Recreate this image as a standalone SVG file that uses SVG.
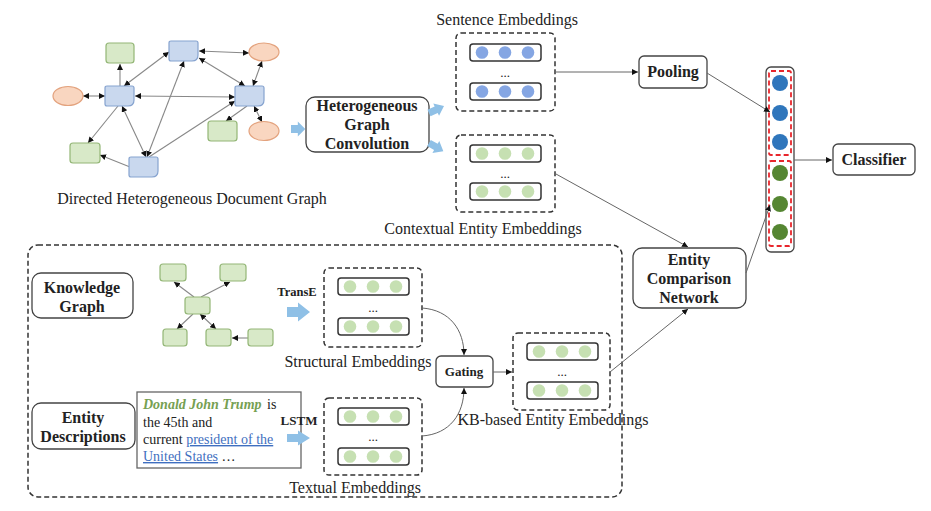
<svg xmlns="http://www.w3.org/2000/svg" xmlns:xlink="http://www.w3.org/1999/xlink" width="931" height="511" viewBox="0 0 931 511">
  <style>
    .t { font-family: "Liberation Serif", "Times New Roman", serif; fill: #222; }
    .lbl { font-size: 16px; text-anchor: middle; }
    .b { font-weight: bold; text-anchor: middle; }
    .box { fill: #fff; stroke: #444; stroke-width: 1.3; }
    .dash { fill: none; stroke: #333; stroke-width: 1.5; stroke-dasharray: 5 3; }
    .row { fill: #fff; stroke: #333; stroke-width: 1.5; }
    .ge { fill: none; stroke: #888; stroke-width: 1.1; }
    .ln { fill: none; stroke: #666; stroke-width: 1; }
    .bl { fill: #c9d8ee; stroke: #86a3cf; stroke-width: 1.2; }
    .gr { fill: #d8e9c8; stroke: #93b676; stroke-width: 1.2; }
    .or { fill: #f9d6c0; stroke: #e3a27d; stroke-width: 1.2; }
    .dg { fill: #c6e0b2; }
    .db { fill: #85a6e3; }
    .fat { fill: #8fc0e6; }
  </style>
  <defs>
    <marker id="ah" viewBox="0 0 10 10" refX="10" refY="5" markerWidth="6" markerHeight="6" markerUnits="userSpaceOnUse" orient="auto-start-reverse">
      <path d="M0,0 L10,5 L0,10 z" fill="#111"/>
    </marker>
    <!-- document shaped node: rounded corners, cut bottom-right -->
    <path id="doc" d="M2,0 H27 Q29,0 29,2 V14 Q29,20 23,20 H2 Q0,20 0,18 V2 Q0,0 2,0 Z"/>
    <!-- thick light-blue flow arrow pointing right, origin at tail centre -->
    <path id="fat" d="M0,-5 H11 V-9.5 L23,0 L11,9.5 V5 H0 Z"/>
    <g id="row3">
      <rect class="row" x="0" y="0" width="71" height="17" rx="3"/>
      <circle cx="12" cy="8.5" r="6.3"/>
      <circle cx="35" cy="8.5" r="6.3"/>
      <circle cx="58" cy="8.5" r="6.3"/>
    </g>
  </defs>

  <!-- directed heterogeneous document graph -->
  <g id="doc-graph">
    <g id="doc-graph-edges">
      <line class="ge" x1="120" y1="86" x2="120" y2="64" marker-end="url(#ah)"/>
      <line class="ge" x1="124" y1="86" x2="169" y2="52" marker-start="url(#ah)" marker-end="url(#ah)"/>
      <line class="ge" x1="199" y1="51" x2="249" y2="53" marker-start="url(#ah)" marker-end="url(#ah)"/>
      <line class="ge" x1="199" y1="58" x2="245" y2="86" marker-start="url(#ah)" marker-end="url(#ah)"/>
      <line class="ge" x1="262" y1="61" x2="253" y2="86" marker-start="url(#ah)" marker-end="url(#ah)"/>
      <line class="ge" x1="83" y1="96" x2="105" y2="96" marker-start="url(#ah)" marker-end="url(#ah)"/>
      <line class="ge" x1="135" y1="96" x2="235" y2="97" marker-start="url(#ah)" marker-end="url(#ah)"/>
      <line class="ge" x1="247" y1="106" x2="226" y2="121" marker-end="url(#ah)"/>
      <line class="ge" x1="254" y1="106" x2="262" y2="122" marker-start="url(#ah)" marker-end="url(#ah)"/>
      <line class="ge" x1="118" y1="106" x2="88" y2="143" marker-end="url(#ah)"/>
      <line class="ge" x1="146" y1="157" x2="122" y2="106" marker-start="url(#ah)" marker-end="url(#ah)"/>
      <line class="ge" x1="130" y1="167" x2="100" y2="155" marker-end="url(#ah)"/>
      <line class="ge" x1="147" y1="157" x2="184" y2="61" marker-start="url(#ah)" marker-end="url(#ah)"/>
      <line class="ge" x1="149" y1="157" x2="235" y2="101" marker-end="url(#ah)"/>
    </g>
    <g id="g-n1"><rect class="gr" x="106" y="43" width="28" height="20" rx="3"/></g>
    <g id="g-n2"><use href="#doc" class="bl" x="169" y="41"/></g>
    <g id="g-n3"><ellipse class="or" cx="264" cy="52" rx="15" ry="9"/></g>
    <g id="g-n4"><ellipse class="or" cx="68" cy="96" rx="15" ry="9.5"/></g>
    <g id="g-n5"><use href="#doc" class="bl" x="105" y="86"/></g>
    <g id="g-n6"><use href="#doc" class="bl" x="235" y="86"/></g>
    <g id="g-n7"><rect class="gr" x="208" y="121" width="29" height="20" rx="3"/></g>
    <g id="g-n8"><ellipse class="or" cx="264" cy="131" rx="15" ry="9.5"/></g>
    <g id="g-n9"><rect class="gr" x="70" y="143" width="30" height="20" rx="3"/></g>
    <g id="g-n10"><use href="#doc" class="bl" x="129" y="157"/></g>
    <text class="t lbl" x="192" y="204">Directed Heterogeneous Document Graph</text>
  </g>

  <!-- heterogeneous graph convolution -->
  <g id="hgc">
    <rect class="box" x="306" y="97" width="123" height="55" rx="9"/>
    <text class="t b" font-size="16" x="367" y="111">Heterogeneous</text>
    <text class="t b" font-size="16" x="367" y="130">Graph</text>
    <text class="t b" font-size="16" x="367" y="149">Convolution</text>
  </g>

  <!-- sentence embeddings -->
  <g id="sentence-emb">
    <text class="t lbl" x="507" y="25">Sentence Embeddings</text>
    <rect class="dash" x="456" y="33" width="99" height="78" rx="5"/>
    <use href="#row3" class="db" x="470" y="44"/>
    <text class="t" font-size="13" x="505" y="77" text-anchor="middle">...</text>
    <use href="#row3" class="db" x="470" y="83"/>
  </g>

  <!-- contextual entity embeddings -->
  <g id="contextual-emb">
    <rect class="dash" x="456" y="135" width="99" height="77" rx="5"/>
    <use href="#row3" class="dg" x="470" y="145"/>
    <text class="t" font-size="13" x="505" y="178" text-anchor="middle">...</text>
    <use href="#row3" class="dg" x="470" y="183"/>
    <text class="t lbl" x="483" y="234">Contextual Entity Embeddings</text>
  </g>

  <!-- pooling -->
  <g id="pooling">
    <rect class="box" x="639" y="56" width="68" height="32" rx="5"/>
    <text class="t b" font-size="16" x="673" y="77">Pooling</text>
  </g>

  <!-- concatenated feature vector -->
  <g id="feature-vector">
    <rect class="box" x="766" y="67" width="28" height="185" rx="5" stroke-width="1.5"/>
    <rect x="769" y="71" width="22" height="84" rx="2" fill="none" stroke="#e8262c" stroke-width="1.8" stroke-dasharray="5 3"/>
    <rect x="769" y="161" width="22" height="85" rx="2" fill="none" stroke="#e8262c" stroke-width="1.8" stroke-dasharray="5 3"/>
    <circle cx="780" cy="83" r="8" fill="#2f76bc"/>
    <circle cx="780" cy="113" r="8" fill="#2f76bc"/>
    <circle cx="780" cy="142" r="8" fill="#2f76bc"/>
    <circle cx="780" cy="173" r="8" fill="#558632"/>
    <circle cx="780" cy="204" r="8" fill="#558632"/>
    <circle cx="780" cy="232" r="8" fill="#558632"/>
  </g>

  <!-- classifier -->
  <g id="classifier">
    <rect class="box" x="833" y="144" width="82" height="31" rx="5"/>
    <text class="t b" font-size="16" x="874" y="165">Classifier</text>
  </g>

  <!-- entity comparison network -->
  <g id="ecn">
    <rect class="box" x="633" y="248" width="113" height="60" rx="9"/>
    <text class="t b" font-size="16" x="689" y="265">Entity</text>
    <text class="t b" font-size="16" x="689" y="284">Comparison</text>
    <text class="t b" font-size="16" x="689" y="303">Network</text>
  </g>

  <!-- knowledge base module -->
  <g id="kb-module">
    <rect class="dash" x="28" y="245" width="594" height="252" rx="10"/>
  </g>

  <g id="knowledge-graph">
    <rect class="box" x="32" y="273" width="101" height="45" rx="9"/>
    <text class="t b" font-size="16" x="82" y="293">Knowledge</text>
    <text class="t b" font-size="16" x="82" y="312">Graph</text>
  </g>

  <g id="kg-small">
    <g id="kg-edges">
      <line class="ge" x1="194" y1="297" x2="174" y2="282" marker-end="url(#ah)"/>
      <line class="ge" x1="201" y1="297" x2="230" y2="282" marker-end="url(#ah)"/>
      <line class="ge" x1="193" y1="314" x2="177" y2="329" marker-end="url(#ah)"/>
      <line class="ge" x1="200" y1="314" x2="216" y2="329" marker-start="url(#ah)" marker-end="url(#ah)"/>
      <line class="ge" x1="248" y1="338" x2="232" y2="338" marker-end="url(#ah)"/>
    </g>
    <g id="kg-n1"><rect class="gr" x="160" y="264" width="26" height="17" rx="3"/></g>
    <g id="kg-n2"><rect class="gr" x="220" y="264" width="26" height="17" rx="3"/></g>
    <g id="kg-n3"><rect class="gr" x="185" y="297" width="25" height="17" rx="3"/></g>
    <g id="kg-n4"><rect class="gr" x="163" y="329" width="24" height="17" rx="3"/></g>
    <g id="kg-n5"><rect class="gr" x="206" y="329" width="25" height="17" rx="3"/></g>
    <g id="kg-n6"><rect class="gr" x="248" y="329" width="25" height="17" rx="3"/></g>
  </g>

  <g id="entity-descriptions">
    <rect class="box" x="32" y="403" width="103" height="46" rx="9"/>
    <text class="t b" font-size="16" x="83" y="423">Entity</text>
    <text class="t b" font-size="16" x="83" y="442">Descriptions</text>
  </g>

  <g id="description-text">
    <rect x="137" y="392" width="164" height="76" fill="#fff" stroke="#666" stroke-width="1.3"/>
    <text class="t" font-size="14" x="143" y="409"><tspan font-style="italic" font-weight="bold" fill="#76a052">Donald John Trump</tspan><tspan x="267">is</tspan></text>
    <text class="t" font-size="14" x="143" y="427">the 45th and</text>
    <text class="t" font-size="14" x="143" y="444">current <tspan fill="#3f6fc0" text-decoration="underline">president of the</tspan></text>
    <text class="t" font-size="14" x="143" y="461"><tspan fill="#3f6fc0" text-decoration="underline">United States</tspan> …</text>
  </g>

  <!-- thick flow arrows and their labels -->
  <g id="flow-arrows">
    <use href="#fat" class="fat" transform="translate(291,129) scale(0.62,0.8)"/>
    <use href="#fat" class="fat" transform="translate(429,113) rotate(-25) scale(0.72)"/>
    <use href="#fat" class="fat" transform="translate(429,143) rotate(30) scale(0.72)"/>
    <use href="#fat" class="fat" transform="translate(287,312)"/>
    <use href="#fat" class="fat" transform="translate(287,438) scale(1,0.8)"/>
    <text class="t b" font-size="12.5" x="297" y="296">TransE</text>
    <text class="t b" font-size="13" x="299" y="425">LSTM</text>
  </g>

  <!-- structural embeddings -->
  <g id="structural-emb">
    <rect class="dash" x="324" y="268" width="98" height="79" rx="5"/>
    <use href="#row3" class="dg" x="338" y="278"/>
    <text class="t" font-size="13" x="373" y="312" text-anchor="middle">...</text>
    <use href="#row3" class="dg" x="338" y="318"/>
    <text class="t lbl" x="358" y="367">Structural Embeddings</text>
  </g>

  <!-- textual embeddings -->
  <g id="textual-emb">
    <rect class="dash" x="324" y="398" width="98" height="77" rx="5"/>
    <use href="#row3" class="dg" x="338" y="408"/>
    <text class="t" font-size="13" x="373" y="441" text-anchor="middle">...</text>
    <use href="#row3" class="dg" x="338" y="448"/>
    <text class="t lbl" x="355" y="493">Textual Embeddings</text>
  </g>

  <!-- gating -->
  <g id="gating">
    <rect class="box" x="436" y="356" width="57" height="31" rx="5"/>
    <text class="t b" font-size="13" x="464" y="376">Gating</text>
  </g>

  <!-- kb-based entity embeddings -->
  <g id="kb-emb">
    <rect class="dash" x="513" y="333" width="97" height="77" rx="5"/>
    <use href="#row3" class="dg" x="527" y="343"/>
    <text class="t" font-size="13" x="562" y="376" text-anchor="middle">...</text>
    <use href="#row3" class="dg" x="527" y="382"/>
    <text class="t lbl" x="553" y="425">KB-based Entity Embeddings</text>
  </g>

  <!-- connectors -->
  <g id="connectors">
    <line class="ln" x1="555" y1="72" x2="638" y2="72" marker-end="url(#ah)"/>
    <line class="ln" x1="707" y1="73" x2="770" y2="112" marker-end="url(#ah)"/>
    <line class="ln" x1="794" y1="160" x2="832" y2="160" marker-end="url(#ah)"/>
    <line class="ln" x1="556" y1="174" x2="688" y2="247" marker-end="url(#ah)"/>
    <line class="ln" x1="746" y1="273" x2="770" y2="205" marker-end="url(#ah)"/>
    <line class="ln" x1="610" y1="372" x2="688" y2="309" marker-end="url(#ah)"/>
    <path class="ln" d="M422,308 C450,310 464,330 464,355" marker-end="url(#ah)"/>
    <path class="ln" d="M422,436 C450,434 464,414 464,388" marker-end="url(#ah)"/>
    <line class="ln" x1="493" y1="372" x2="512" y2="372" marker-end="url(#ah)"/>
  </g>
</svg>
